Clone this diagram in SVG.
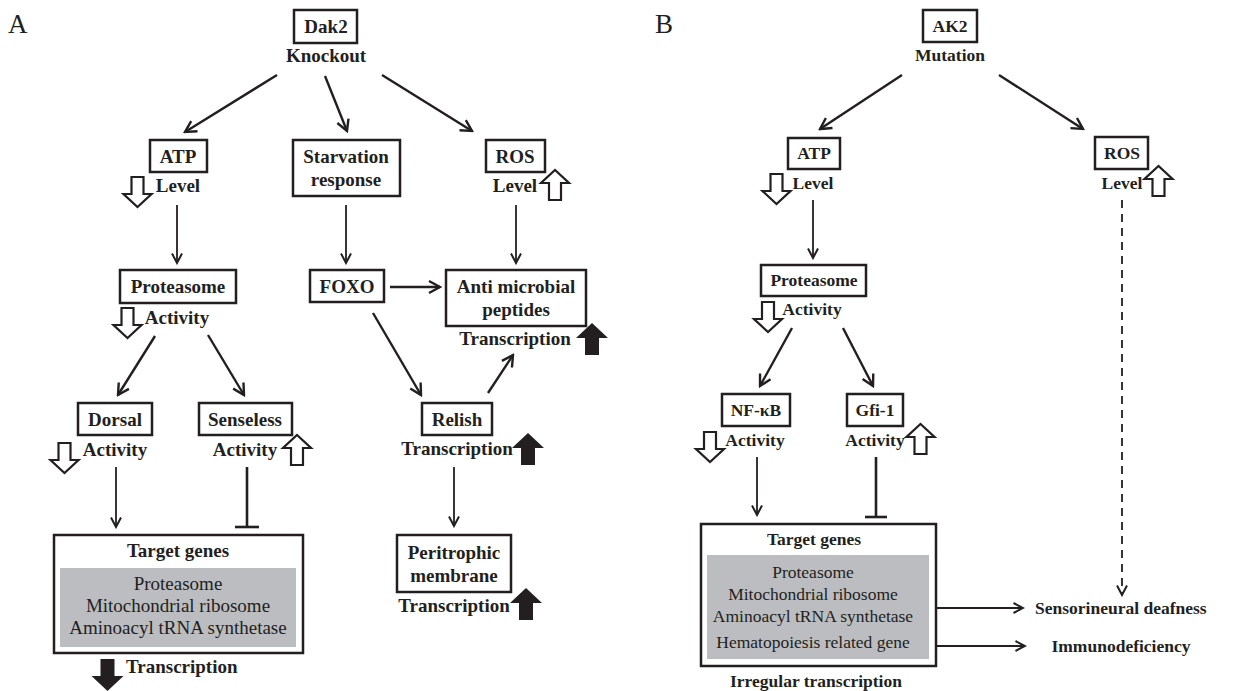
<svg xmlns="http://www.w3.org/2000/svg" width="1251" height="691" viewBox="0 0 1251 691">
<style>
  text { font-family: "Liberation Serif", "Times New Roman", serif; fill: #231f20; }
  .b { font-weight: bold; font-size: 19px; text-anchor: middle; }
  .r { font-size: 19px; text-anchor: middle; }
  .bb { font-weight: bold; font-size: 17.5px; text-anchor: middle; }
  .rb { font-size: 17.5px; text-anchor: middle; }
  .lbl { font-size: 27px; }
  .box { fill: #fff; stroke: #231f20; stroke-width: 2.5; }
  .gray { fill: #bcbdc0; stroke: none; }
  .c { stroke: #231f20; stroke-width: 2.4; fill: none; marker-end: url(#ah); }
  .cv { stroke: #231f20; stroke-width: 1.8; fill: none; marker-end: url(#ah2); }
  .inh { stroke: #231f20; stroke-width: 2.6; fill: none; }
  .dash { stroke: #231f20; stroke-width: 1.8; fill: none; stroke-dasharray: 8 6; marker-end: url(#ah2); }
  .hollow { fill: #fff; stroke: #231f20; stroke-width: 2.2; stroke-linejoin: miter; }
  .solid { fill: #231f20; stroke: none; }
</style>
<defs>
  <marker id="ah" markerUnits="userSpaceOnUse" markerWidth="16" markerHeight="16" viewBox="0 0 16 16" refX="14" refY="8" orient="auto">
    <path d="M3,2 L14,8 L3,14" fill="none" stroke="#231f20" stroke-width="2.4"/>
  </marker>
  <marker id="ah2" markerUnits="userSpaceOnUse" markerWidth="14" markerHeight="14" viewBox="0 0 14 14" refX="12.5" refY="7" orient="auto">
    <path d="M3,2 L12.5,7 L3,12" fill="none" stroke="#231f20" stroke-width="2"/>
  </marker>
  <path id="hdown" d="M-6,0 H6 V17 H14 L0,30 L-14,17 H-6 Z"/>
  <path id="hup" d="M-6,30 H6 V13 H14 L0,0 L-14,13 H-6 Z"/>
  <path id="sup" d="M-7,32 H7 V15 H16 L0,0 L-16,15 H-7 Z"/>
  <path id="sdown" d="M-7,0 H7 V17 H16 L0,32 L-16,17 H-7 Z"/>
</defs>

<rect width="1251" height="691" fill="#fff"/>

<text class="lbl" x="8" y="33">A</text>
<text class="lbl" x="655" y="33">B</text>

<g id="connectors">
  <!-- Panel A -->
  <line class="c" x1="277" y1="75" x2="185" y2="132"/>
  <line class="c" x1="325" y1="76" x2="347" y2="131"/>
  <line class="c" x1="382" y1="75" x2="472" y2="131"/>
  <line class="cv" x1="177" y1="205" x2="177" y2="263"/>
  <line class="cv" x1="346" y1="205" x2="346" y2="263"/>
  <line class="cv" x1="516" y1="205" x2="516" y2="263"/>
  <line class="c" x1="155" y1="336" x2="118" y2="395"/>
  <line class="c" x1="208" y1="335" x2="244" y2="395"/>
  <line class="c" x1="390" y1="287" x2="440" y2="287"/>
  <line class="c" x1="373" y1="313" x2="421" y2="395"/>
  <line class="c" x1="488" y1="393" x2="513" y2="355"/>
  <line class="cv" x1="116" y1="467" x2="116" y2="527"/>
  <line class="inh" x1="247" y1="467" x2="247" y2="527"/>
  <line class="inh" x1="235" y1="527" x2="259" y2="527"/>
  <line class="cv" x1="454" y1="467" x2="454" y2="526"/>
  <!-- Panel B -->
  <line class="c" x1="902" y1="75" x2="820" y2="129"/>
  <line class="c" x1="999" y1="75" x2="1083" y2="129"/>
  <line class="cv" x1="813" y1="200" x2="813" y2="258"/>
  <line class="dash" x1="1122" y1="200" x2="1122" y2="595"/>
  <line class="c" x1="792" y1="328" x2="760" y2="386"/>
  <line class="c" x1="843" y1="328" x2="873" y2="386"/>
  <line class="cv" x1="757" y1="457" x2="757" y2="515"/>
  <line class="inh" x1="876" y1="457" x2="876" y2="517"/>
  <line class="inh" x1="865" y1="517" x2="887" y2="517"/>
  <path class="inh" d="M920,590 H925 V623 H920"/>
  <line class="cv" x1="925" y1="608" x2="1023" y2="608"/>
  <line class="cv" x1="923" y1="646" x2="1025" y2="646"/>
</g>

<!-- Panel A nodes -->
<g id="a-dak2">
  <rect class="box" x="294" y="10" width="63" height="33"/>
  <text class="b" x="326" y="33">Dak2</text>
  <text class="b" x="326" y="62">Knockout</text>
</g>
<g id="a-atp">
  <rect class="box" x="150" y="140" width="57" height="32"/>
  <text class="b" x="178" y="163">ATP</text>
  <text class="b" x="178" y="192">Level</text>
  <use href="#hdown" class="hollow" transform="translate(137.5,177)"/>
</g>
<g id="a-starvation">
  <rect class="box" x="293" y="140" width="107" height="56"/>
  <text class="b" x="346" y="163">Starvation</text>
  <text class="b" x="346" y="186">response</text>
</g>
<g id="a-ros">
  <rect class="box" x="486" y="140" width="59" height="32"/>
  <text class="b" x="515" y="163">ROS</text>
  <text class="b" x="515" y="192">Level</text>
  <use href="#hup" class="hollow" transform="translate(555,170)"/>
</g>
<g id="a-proteasome">
  <rect class="box" x="120" y="270" width="116" height="33"/>
  <text class="b" x="178" y="293">Proteasome</text>
  <text class="b" x="177" y="324">Activity</text>
  <use href="#hdown" class="hollow" transform="translate(127.5,308)"/>
</g>
<g id="a-foxo">
  <rect class="box" x="310" y="270" width="74" height="32"/>
  <text class="b" x="347" y="293">FOXO</text>
</g>
<g id="a-amp">
  <rect class="box" x="446" y="270" width="140" height="56"/>
  <text class="b" x="516" y="293">Anti microbial</text>
  <text class="b" x="516" y="316">peptides</text>
  <text class="b" x="515" y="345">Transcription</text>
  <use href="#sup" class="solid" transform="translate(592,323)"/>
</g>
<g id="a-dorsal">
  <rect class="box" x="78" y="403" width="74" height="32"/>
  <text class="b" x="115" y="426">Dorsal</text>
  <text class="b" x="115" y="456">Activity</text>
  <use href="#hdown" class="hollow" transform="translate(64.5,443)"/>
</g>
<g id="a-senseless">
  <rect class="box" x="199" y="403" width="93" height="32"/>
  <text class="b" x="245" y="426">Senseless</text>
  <text class="b" x="245" y="456">Activity</text>
  <use href="#hup" class="hollow" transform="translate(297,435)"/>
</g>
<g id="a-relish">
  <rect class="box" x="422" y="403" width="70" height="32"/>
  <text class="b" x="457" y="426">Relish</text>
  <text class="b" x="457" y="455">Transcription</text>
  <use href="#sup" class="solid" transform="translate(528,433)"/>
</g>
<g id="a-peritrophic">
  <rect class="box" x="397" y="535" width="114" height="57"/>
  <text class="b" x="454" y="559">Peritrophic</text>
  <text class="b" x="454" y="582">membrane</text>
  <text class="b" x="454" y="612">Transcription</text>
  <use href="#sup" class="solid" transform="translate(526,588)"/>
</g>
<g id="a-target">
  <rect class="box" x="54" y="535" width="249" height="118"/>
  <text class="b" x="178" y="557">Target genes</text>
  <rect class="gray" x="60" y="568" width="236" height="79"/>
  <text class="r" x="178" y="590">Proteasome</text>
  <text class="r" x="178" y="612">Mitochondrial ribosome</text>
  <text class="r" x="178" y="634">Aminoacyl tRNA synthetase</text>
  <use href="#sdown" class="solid" transform="translate(107.5,659)"/>
  <text class="b" x="126" y="673" style="text-anchor:start">Transcription</text>
</g>

<!-- Panel B nodes -->
<g id="b-ak2">
  <rect class="box" x="923" y="10" width="54" height="32"/>
  <text class="bb" x="950" y="32">AK2</text>
  <text class="bb" x="950" y="61">Mutation</text>
</g>
<g id="b-atp">
  <rect class="box" x="788" y="138" width="52" height="31"/>
  <text class="bb" x="814" y="159">ATP</text>
  <text class="bb" x="813" y="189">Level</text>
  <use href="#hdown" class="hollow" transform="translate(776.5,174)"/>
</g>
<g id="b-ros">
  <rect class="box" x="1095" y="137" width="53" height="32"/>
  <text class="bb" x="1122" y="159">ROS</text>
  <text class="bb" x="1122" y="189">Level</text>
  <use href="#hup" class="hollow" transform="translate(1158.5,166)"/>
</g>
<g id="b-proteasome">
  <rect class="box" x="761" y="265" width="105" height="31"/>
  <text class="bb" x="814" y="286">Proteasome</text>
  <text class="bb" x="812" y="315">Activity</text>
  <use href="#hdown" class="hollow" transform="translate(768,302)"/>
</g>
<g id="b-nfkb">
  <rect class="box" x="722" y="394" width="68" height="32"/>
  <text class="bb" x="756" y="416">NF-κB</text>
  <text class="bb" x="755" y="446">Activity</text>
  <use href="#hdown" class="hollow" transform="translate(710,432)"/>
</g>
<g id="b-gfi1">
  <rect class="box" x="847" y="394" width="56" height="32"/>
  <text class="bb" x="875" y="416">Gfi-1</text>
  <text class="bb" x="875" y="446">Activity</text>
  <use href="#hup" class="hollow" transform="translate(920.5,424)"/>
</g>
<g id="b-target">
  <rect class="box" x="701" y="524" width="235" height="142"/>
  <text class="bb" x="814" y="545">Target genes</text>
  <rect class="gray" x="707" y="555" width="222" height="104"/>
  <text class="rb" x="813" y="578">Proteasome</text>
  <text class="rb" x="813" y="600">Mitochondrial ribosome</text>
  <text class="rb" x="813" y="622">Aminoacyl tRNA synthetase</text>
  <text class="rb" x="813" y="648">Hematopoiesis related gene</text>
  <text class="bb" x="816" y="687">Irregular transcription</text>
</g>
<g id="b-deafness">
  <text class="bb" x="1035" y="614" style="text-anchor:start">Sensorineural deafness</text>
</g>
<g id="b-immuno">
  <text class="bb" x="1121" y="652">Immunodeficiency</text>
</g>
</svg>
